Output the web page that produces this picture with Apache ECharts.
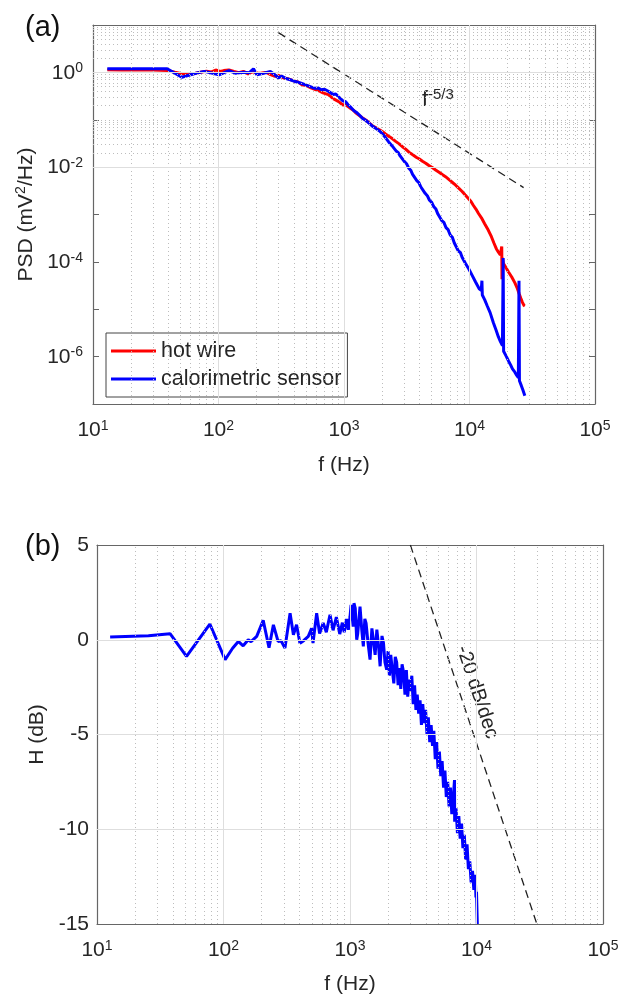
<!DOCTYPE html>
<html>
<head>
<meta charset="utf-8">
<script src="https://cdn.jsdelivr.net/npm/echarts/dist/echarts.min.js"></script>
<style>
  html, body { margin: 0; padding: 0; background: #fff; }
  #chart { width: 622px; height: 996px; }
</style>
</head>
<body>
<div id="chart"></div>
<script>
// (a) power spectral density, mV^2/Hz
const hotWireFreq = [13, 17, 22, 30, 39, 45, 52, 58, 64, 70, 80, 88, 95, 103, 110, 121, 133, 145, 158, 172, 182, 190, 205, 220, 240, 260, 283, 300, 330, 360, 400, 430, 460, 500, 545, 585, 630, 680, 750, 820, 900, 980, 1030, 1077, 1110, 1140, 1170, 1200, 1240, 1270, 1310, 1350, 1400, 1450, 1500, 1550, 1600, 1650, 1700, 1750, 1800, 1860, 1920, 1973, 2030, 2080, 2140, 2200, 2270, 2350, 2420, 2500, 2580, 2660, 2750, 2840, 2920, 3000, 3100, 3200, 3310, 3420, 3530, 3650, 3760, 3870, 3990, 4100, 4220, 4350, 4480, 4610, 4750, 4900, 5050, 5200, 5370, 5550, 5720, 5900, 6070, 6250, 6440, 6640, 6840, 7050, 7270, 7500, 7720, 7950, 8200, 8460, 8700, 8950, 9220, 9500, 9750, 10000, 10250, 10500, 10750, 11000, 11250, 11500, 11800, 12100, 12450, 12800, 13200, 13600, 14100, 14600, 14950, 15300, 15650, 16000, 16350, 16700, 17000, 17300, 17600, 17800, 18070, 18150, 18300, 18650, 19000, 19400, 19800, 20400, 21000, 21700, 22500, 23000, 23500, 24000, 24500, 24900, 25300, 25650, 26000, 26400, 26800, 27200, 27600];
const hotWirePsd = [1.13, 1.12, 1.13, 1.12, 1.10, 1.01, 0.93, 0.89, 0.94, 0.99, 1.06, 1.02, 1.12, 1.05, 1.09, 1.13, 1.05, 0.99, 1.05, 0.93, 1.00, 1.03, 0.96, 0.97, 1.00, 0.90, 0.82, 0.87, 0.76, 0.73, 0.66, 0.63, 0.55, 0.53, 0.47, 0.44, 0.41, 0.37, 0.34, 0.28, 0.245, 0.205, 0.21, 0.19, 0.175, 0.17, 0.16, 0.155, 0.14, 0.135, 0.125, 0.12, 0.11, 0.101, 0.098, 0.092, 0.084, 0.081, 0.074, 0.076, 0.068, 0.067, 0.061, 0.062, 0.056, 0.055, 0.050, 0.051, 0.045, 0.044, 0.040, 0.040, 0.035, 0.035, 0.031, 0.031, 0.027, 0.027, 0.024, 0.0245, 0.0205, 0.021, 0.0182, 0.0188, 0.0162, 0.0166, 0.0148, 0.0152, 0.0133, 0.0137, 0.0121, 0.0126, 0.0108, 0.0111, 0.0098, 0.0101, 0.0087, 0.0089, 0.0078, 0.0081, 0.0070, 0.0073, 0.0063, 0.0066, 0.0055, 0.0058, 0.0048, 0.0051, 0.0042, 0.0045, 0.0036, 0.0038, 0.0031, 0.0032, 0.0026, 0.0027, 0.0022, 0.0023, 0.0019, 0.0019, 0.00155, 0.0016, 0.0013, 0.00132, 0.00105, 0.0011, 0.00085, 0.00088, 0.00064, 0.00065, 0.00047, 0.00044, 0.00034, 0.00033, 0.00025, 0.00026, 0.00019, 0.0002, 0.00016, 0.000165, 0.00014, 0.000145, 0.00021, 0.000043, 0.00012, 0.000092, 0.0001, 0.000078, 0.000082, 0.000062, 0.000064, 0.000048, 0.00005, 0.000036, 0.000037, 0.000028, 0.000029, 0.000021, 0.000023, 0.000017, 0.000018, 0.000014, 0.0000148, 0.000012, 0.0000117];

const caloFreq = [13, 20, 30, 39, 51, 66, 77, 88, 101, 121, 136, 158, 175, 190, 202, 229, 259, 280, 300, 318, 345, 373, 410, 455, 490, 520, 585, 620, 660, 700, 750, 820, 860, 900, 980, 1030, 1077, 1110, 1140, 1170, 1200, 1240, 1270, 1310, 1350, 1400, 1450, 1500, 1550, 1600, 1650, 1700, 1750, 1800, 1860, 1920, 1973, 2030, 2080, 2140, 2200, 2270, 2350, 2420, 2510, 2600, 2700, 2800, 2900, 3020, 3150, 3270, 3400, 3520, 3650, 3800, 3950, 4100, 4250, 4430, 4610, 4800, 5000, 5200, 5400, 5600, 5800, 6020, 6250, 6500, 6750, 7020, 7300, 7570, 7850, 8150, 8460, 8730, 9000, 9300, 9600, 9900, 10200, 10500, 10800, 11150, 11500, 11950, 12400, 12560, 12650, 13200, 13800, 14600, 15500, 16300, 17000, 17600, 18300, 18550, 18700, 19500, 20500, 21300, 22000, 23000, 23800, 24500, 24800, 25000, 25800, 26600, 27600];
const caloPsd = [1.19, 1.19, 1.19, 1.19, 0.79, 0.96, 1.05, 0.97, 0.89, 1.09, 0.96, 1.01, 0.98, 1.19, 0.89, 0.96, 1.04, 0.90, 0.76, 0.84, 0.74, 0.70, 0.64, 0.59, 0.55, 0.52, 0.46, 0.47, 0.43, 0.44, 0.40, 0.34, 0.35, 0.31, 0.25, 0.24, 0.207, 0.2, 0.18, 0.175, 0.155, 0.15, 0.14, 0.128, 0.12, 0.108, 0.104, 0.096, 0.092, 0.083, 0.080, 0.072, 0.074, 0.065, 0.064, 0.058, 0.0568, 0.05, 0.047, 0.042, 0.039, 0.034, 0.032, 0.028, 0.0258, 0.022, 0.0205, 0.0172, 0.0158, 0.0132, 0.0118, 0.0096, 0.0086, 0.0070, 0.0064, 0.0052, 0.0047, 0.0038, 0.0035, 0.0028, 0.0025, 0.002, 0.0018, 0.00145, 0.0013, 0.00102, 0.00094, 0.00074, 0.00068, 0.00053, 0.00048, 0.00037, 0.00033, 0.00025, 0.00023, 0.00017, 0.000158, 0.000125, 0.00012, 0.000092, 0.00009, 0.00007, 0.000067, 0.000052, 0.000051, 0.000038, 0.000037, 0.000027, 0.000025, 0.00004, 0.00002, 0.000016, 0.000012, 0.0000085, 0.0000052, 0.0000036, 0.0000026, 0.0000021, 0.0000017, 0.00012, 0.0000013, 0.00000105, 0.0000008, 0.00000066, 0.00000055, 0.00000047, 0.0000004, 0.00000036, 0.00004, 0.00000031, 0.00000025, 0.0000002, 0.00000015];

const slopeRefFreq = [300, 27000];
const slopeRefPsd = [6.9, 0.0037];

// (b) transfer function, dB
const respFreq = [12.7, 25.5, 37.8, 51, 78, 103, 118, 131, 143, 157, 165, 183, 206, 229, 248, 270, 285, 306, 336, 357, 378, 402, 430, 445, 468, 497, 510, 545, 575, 614, 650, 695, 735, 780, 830, 870, 900, 940, 970, 1000, 1020, 1060, 1075, 1100, 1130, 1150, 1200, 1240, 1275, 1310, 1340, 1390, 1440, 1490, 1530, 1580, 1630, 1680, 1730, 1790, 1840, 1890, 1950, 2000, 2050, 2100, 2160, 2220, 2280, 2340, 2400, 2460, 2520, 2580, 2650, 2720, 2790, 2860, 2930, 3000, 3080, 3160, 3240, 3320, 3400, 3490, 3580, 3670, 3760, 3860, 3960, 4060, 4160, 4270, 4380, 4490, 4600, 4720, 4840, 4960, 5090, 5220, 5350, 5490, 5630, 5770, 5920, 6070, 6220, 6380, 6540, 6700, 6720, 6890, 7070, 7250, 7430, 7620, 7810, 8010, 8210, 8420, 8630, 8850, 9070, 9300, 9530, 9770, 9900, 10000, 10080, 10150];
const respDb = [0.14, 0.21, 0.32, -0.88, 0.83, -1.05, -0.45, -0.09, -0.32, 0.0, -0.1, 0.18, 1.02, -0.42, 0.79, -0.09, -0.05, -0.44, 1.40, 0.26, 0.79, -0.18, -0.05, -0.1, 0.18, 0.61, -0.18, 1.40, 0.33, 0.88, 0.4, 1.32, 0.5, 1.2, 0.3, 0.9, 0.4, 1.1, 0.53, 1.2, 1.84, 0.7, 1.93, 1.67, 0.0, 0.3, 1.75, 0.5, -0.35, 1.1, 0.88, -0.2, -1.05, 0.6, 0.0, -0.8, 0.53, -0.3, -1.40, 0.2, -0.18, -1.2, -1.58, -0.6, -1.9, -0.8, -1.6, -2.3, -0.9, -1.2, -2.4, -1.5, -2.6, -1.3, -1.7, -2.9, -1.6, -3.0, -2.1, -2.7, -1.9, -3.4, -2.4, -3.7, -2.9, -3.9, -3.2, -4.5, -3.4, -4.4, -3.7, -5.0, -4.1, -5.4, -4.5, -5.6, -4.8, -6.3, -5.4, -6.8, -5.9, -7.2, -6.4, -7.8, -6.9, -8.3, -7.5, -8.8, -7.8, -9.2, -8.4, -7.4, -9.6, -8.9, -10.2, -9.3, -10.5, -9.7, -11.0, -10.3, -11.6, -10.8, -12.1, -11.7, -12.8, -12.2, -13.2, -12.4, -13.6, -13.3, -14.2, -15];

const rolloffRefFreq = [3000, 30000];
const rolloffRefDb = [5, -15];

// label anchors (data coords)
const slopeLabelAt = [5600, 0.27];
const rolloffLabelAt = [10100, -2.76];

const FONT = '"Liberation Sans", Arial, Helvetica, sans-serif';
const TXT = '#262626';
const AXIS = '#666';

function zip(xs, ys) { return xs.map((x, i) => [x, ys[i]]); }

function minorValues(kFrom, kTo) {
  const out = [];
  for (let k = kFrom; k <= kTo; k++) {
    for (let m = 2; m <= 9; m++) out.push(+(m * Math.pow(10, k)).toPrecision(6));
  }
  return out;
}

const supRich = {
  b: { fontSize: 21, fontFamily: FONT, color: TXT, verticalAlign: 'bottom', lineHeight: 22 },
  s: { fontSize: 14, fontFamily: FONT, color: TXT, verticalAlign: 'bottom', lineHeight: 14, padding: [0, 0, 8, 0] }
};

function gridLines(xi, yi, xMajor, xMinor, yMajor, yMinor) {
  const major = { type: 'solid', color: '#dedede', width: 1 };
  const minor = { type: [1, 3], color: '#bdbdbd', width: 1 };
  const data = [];
  xMinor.forEach(v => data.push({ xAxis: v, lineStyle: minor }));
  yMinor.forEach(v => data.push({ yAxis: v, lineStyle: minor }));
  xMajor.forEach(v => data.push({ xAxis: v, lineStyle: major }));
  yMajor.forEach(v => data.push({ yAxis: v, lineStyle: major }));
  return {
    type: 'line', xAxisIndex: xi, yAxisIndex: yi, data: [], silent: true,
    markLine: { silent: true, symbol: ['none', 'none'], label: { show: false }, animation: false, data: data }
  };
}

function freqAxis(gridIndex, showLabel, gap) {
  return {
    type: 'log', logBase: 10, min: 10, max: 100000, gridIndex: gridIndex,
    position: showLabel ? 'bottom' : 'top',
    axisLine: { onZero: false, lineStyle: { color: AXIS, width: 1.2 } },
    axisTick: { inside: true, length: 6, lineStyle: { color: AXIS } },
    splitLine: { show: false },
    axisLabel: {
      show: showLabel, margin: 15,
      formatter: v => '{b|10}{s|' + Math.round(Math.log10(v)) + '}',
      rich: supRich
    },
    name: showLabel ? 'f (Hz)' : '',
    nameLocation: 'middle', nameGap: gap || 50,
    nameTextStyle: { fontSize: 21, fontFamily: FONT, color: TXT }
  };
}

const xMinorAll = minorValues(1, 4);
const yMinorPsd = minorValues(-7, 0).concat([1e-5, 1e-3, 1e-1]);

const option = {
  animation: false,
  backgroundColor: '#fff',
  grid: [
    { left: 93, top: 25, width: 502, height: 379, show: false },
    { left: 97, top: 545, width: 506, height: 379, show: false }
  ],
  xAxis: [freqAxis(0, true, 51), freqAxis(0, false), freqAxis(1, true, 50), freqAxis(1, false)],
  yAxis: [
    {
      type: 'log', logBase: 10, min: 1e-7, max: 10, gridIndex: 0,
      axisLine: { onZero: false, lineStyle: { color: AXIS, width: 1.2 } },
      axisTick: { inside: true, length: 6, lineStyle: { color: AXIS } },
      splitLine: { show: false },
      axisLabel: {
        margin: 10,
        formatter: v => { const e = Math.round(Math.log10(v)); return e % 2 === 0 ? '{b|10}{s|' + e + '}' : ''; },
        rich: supRich
      },
      name: '{n|PSD (mV}{s|2}{n|/Hz)}',
      nameLocation: 'middle', nameGap: 51,
      nameTextStyle: {
        rich: {
          n: { fontSize: 21, fontFamily: FONT, color: TXT, verticalAlign: 'bottom', lineHeight: 22 },
          s: { fontSize: 14, fontFamily: FONT, color: TXT, verticalAlign: 'bottom', lineHeight: 14, padding: [0, 0, 8, 0] }
        }
      }
    },
    {
      type: 'log', logBase: 10, min: 1e-7, max: 10, gridIndex: 0, position: 'right',
      axisLine: { onZero: false, lineStyle: { color: AXIS, width: 1.2 } },
      axisTick: { inside: true, length: 6, lineStyle: { color: AXIS } },
      splitLine: { show: false }, axisLabel: { show: false }
    },
    {
      type: 'value', min: -15, max: 5, interval: 5, gridIndex: 1,
      axisLine: { show: true, onZero: false, lineStyle: { color: AXIS, width: 1.2 } },
      axisTick: { show: true, inside: true, length: 6, lineStyle: { color: AXIS } },
      splitLine: { show: false },
      axisLabel: { margin: 8, fontSize: 21, fontFamily: FONT, color: TXT },
      name: 'H (dB)', nameLocation: 'middle', nameGap: 39,
      nameTextStyle: { fontSize: 21, fontFamily: FONT, color: TXT }
    },
    {
      type: 'value', min: -15, max: 5, interval: 5, gridIndex: 1, position: 'right',
      axisLine: { show: true, onZero: false, lineStyle: { color: AXIS, width: 1.2 } },
      axisTick: { show: true, inside: true, length: 6, lineStyle: { color: AXIS } },
      splitLine: { show: false }, axisLabel: { show: false }
    }
  ],
  legend: {
    data: ['hot wire', 'calorimetric sensor'],
    orient: 'vertical', left: 106, top: 333,
    icon: 'rect', itemWidth: 45, itemHeight: 3, itemGap: 6,
    padding: [7, 6, 7, 5],
    borderColor: '#444', borderWidth: 1, backgroundColor: '#fff',
    selectedMode: false,
    textStyle: { fontSize: 21.5, fontFamily: FONT, color: TXT, padding: [0, 2, 0, 0] }
  },
  series: [
    gridLines(0, 0, [100, 1000, 10000], xMinorAll, [1e-6, 1e-4, 1e-2, 1], yMinorPsd),
    {
      name: 'hot wire', type: 'line', xAxisIndex: 0, yAxisIndex: 0,
      data: zip(hotWireFreq, hotWirePsd), showSymbol: false, color: '#ff0000',
      lineStyle: { width: 3, color: '#ff0000' }
    },
    {
      name: 'calorimetric sensor', type: 'line', xAxisIndex: 0, yAxisIndex: 0,
      data: zip(caloFreq, caloPsd), showSymbol: false, color: '#0000ff',
      lineStyle: { width: 3, color: '#0000ff' }
    },
    {
      name: 'slope', type: 'line', xAxisIndex: 0, yAxisIndex: 0,
      data: zip(slopeRefFreq, slopeRefPsd), showSymbol: false, silent: true,
      lineStyle: { width: 1.3, color: '#222', type: [8, 5] }
    },
    gridLines(2, 2, [100, 1000, 10000], xMinorAll, [0, -5, -10], []),
    {
      name: 'H', type: 'line', xAxisIndex: 2, yAxisIndex: 2,
      data: zip(respFreq, respDb), showSymbol: false, color: '#0000ff',
      lineStyle: { width: 3, color: '#0000ff' }
    },
    {
      name: 'rolloff', type: 'line', xAxisIndex: 2, yAxisIndex: 2,
      data: zip(rolloffRefFreq, rolloffRefDb), showSymbol: false, silent: true,
      lineStyle: { width: 1.3, color: '#222', type: [8, 5] }
    }
  ]
};

const chart = echarts.init(document.getElementById('chart'), null, { renderer: 'canvas' });
chart.setOption(option);

const p1 = chart.convertToPixel({ xAxisIndex: 0, yAxisIndex: 0 }, slopeLabelAt);
const p2 = chart.convertToPixel({ xAxisIndex: 2, yAxisIndex: 2 }, rolloffLabelAt);

chart.setOption({
  graphic: [
    { type: 'text', x: 25, y: 28, style: { text: '(a)', fontSize: 29, fontFamily: FONT, fill: '#111', align: 'left', verticalAlign: 'middle' } },
    { type: 'text', x: 25, y: 547, style: { text: '(b)', fontSize: 29, fontFamily: FONT, fill: '#111', align: 'left', verticalAlign: 'middle' } },
    {
      type: 'text', x: p1[0], y: p1[1],
      style: {
        text: '{f|f}{s|-5/3}', align: 'center', verticalAlign: 'middle',
        rich: {
          f: { fontSize: 22, fontFamily: FONT, fill: TXT, verticalAlign: 'bottom', lineHeight: 24 },
          s: { fontSize: 15, fontFamily: FONT, fill: TXT, verticalAlign: 'bottom', lineHeight: 15, padding: [0, 0, 9, 0] }
        }
      }
    },
    {
      type: 'text', x: p2[0], y: p2[1], rotation: -1.25,
      style: { text: '-20 dB/dec', fontSize: 20, fontFamily: FONT, fill: TXT, align: 'center', verticalAlign: 'middle' }
    }
  ]
});
</script>
</body>
</html>
